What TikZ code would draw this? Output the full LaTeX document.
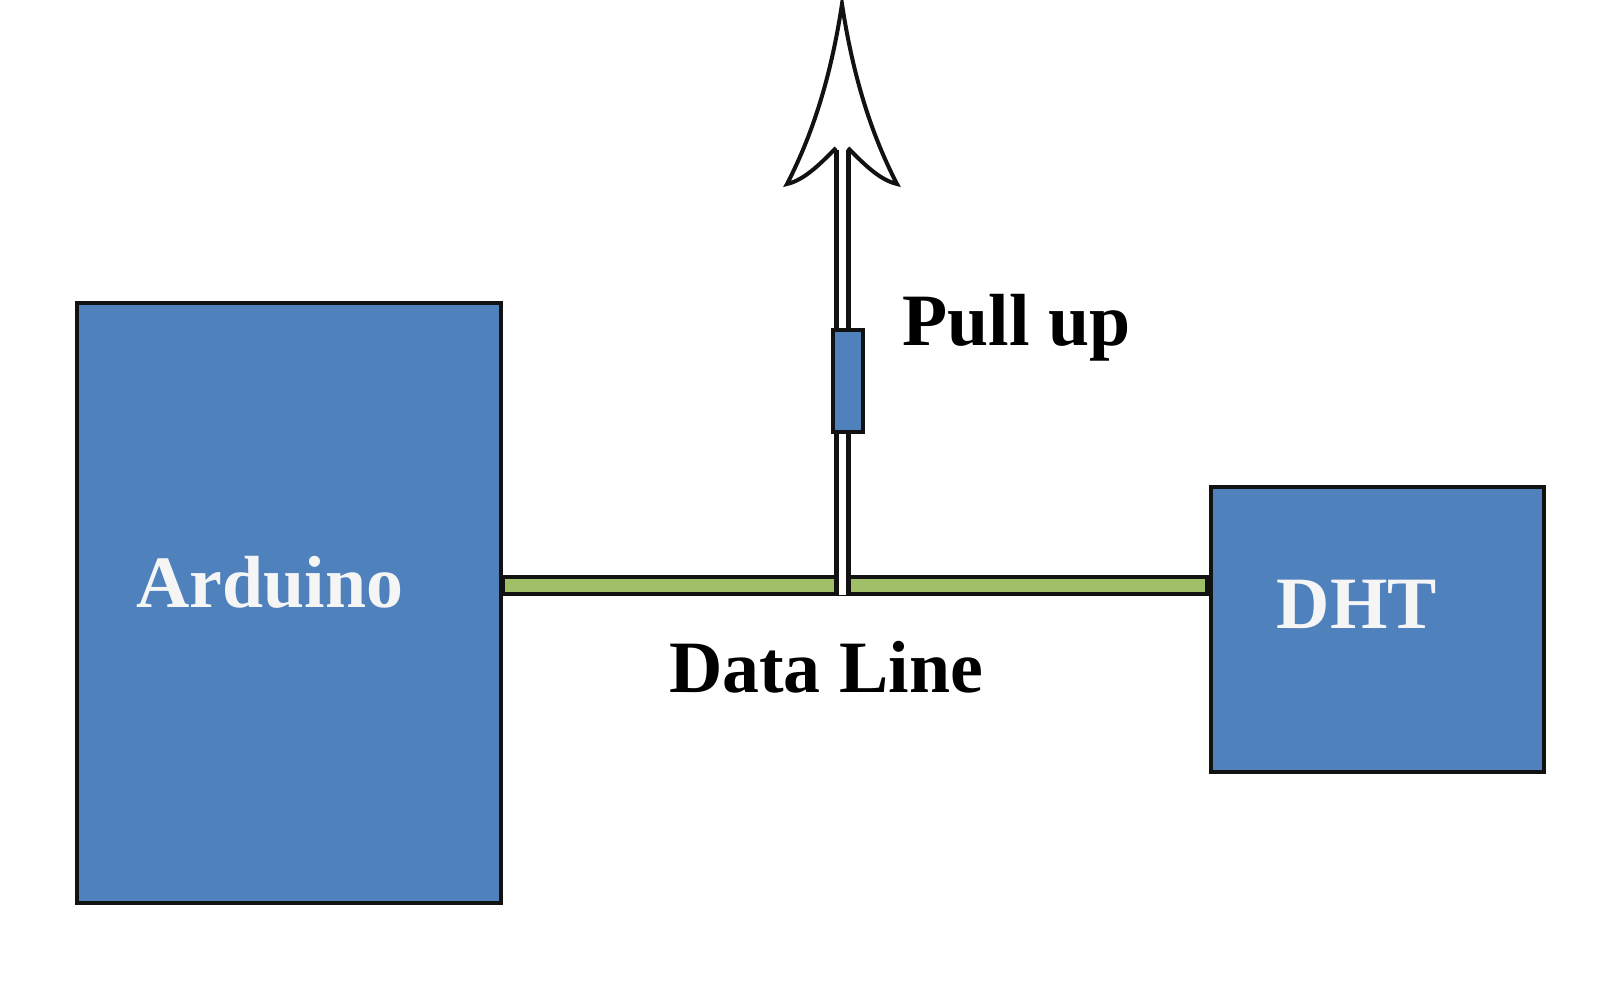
\documentclass[tikz,border=0pt]{standalone}
\usepackage{fontspec}
\setmainfont{Liberation Serif}
\definecolor{boxblue}{rgb}{0.310, 0.506, 0.741}
\definecolor{wiregreen}{rgb}{0.631, 0.749, 0.404}
\tikzset{
  block/.style={draw=black!93, line width=0.04cm, fill=boxblue, inner sep=0pt},
  lbl/.style={font=\fontsize{21}{25}\selectfont\bfseries},
}
\begin{document}
\begin{tikzpicture}[x=0.01cm, y=-0.01cm]
\useasboundingbox (0,0) rectangle (1611,983);
% blocks
\node[block, minimum width=4.24cm, minimum height=6.0cm] (arduino) at (289,603) {};
\node[block, minimum width=3.33cm, minimum height=2.85cm] (dht) at (1377.5,629.5) {};
\node[lbl, text=white!96!black] (arduinotext) at (270,582) {Arduino};
\node[lbl, text=white!96!black] (dhttext) at (1357,604) {DHT};
% data line
\coordinate (jn) at (845,586);
\draw[line width=0.21cm, black!93] (arduino.east |- jn) -- (dht.west |- jn);
\draw[line width=0.13cm, wiregreen] (arduino.east |- jn) ++(2,0) -- ([xshift=-0.04cm]dht.west |- jn);
% pull up wire
\coordinate (top) at (842,150);
\draw[line width=0.17cm, black!93] (jn) ++(-3,9) -- (top);
\draw[line width=0.07cm, white] (jn) ++(-3,9) -- (top);
\node[block, minimum width=0.29cm, minimum height=1.02cm] (res) at (848,381) {};
% arrow head
\draw[line width=0.04cm, black!93, fill=white, line join=miter]
  (836,148) .. controls (822,162) and (805,180) .. (787,184)
  .. controls (815,130) and (832,70) .. (842,4)
  .. controls (852,70) and (869,130) .. (897,184)
  .. controls (879,180) and (862,162) .. (848,148);
\node[lbl, anchor=west] (pullup) at (890,328) {Pull up};
\node[lbl] (dataline) at (826,667) {Data Line};
\end{tikzpicture}
\end{document}
